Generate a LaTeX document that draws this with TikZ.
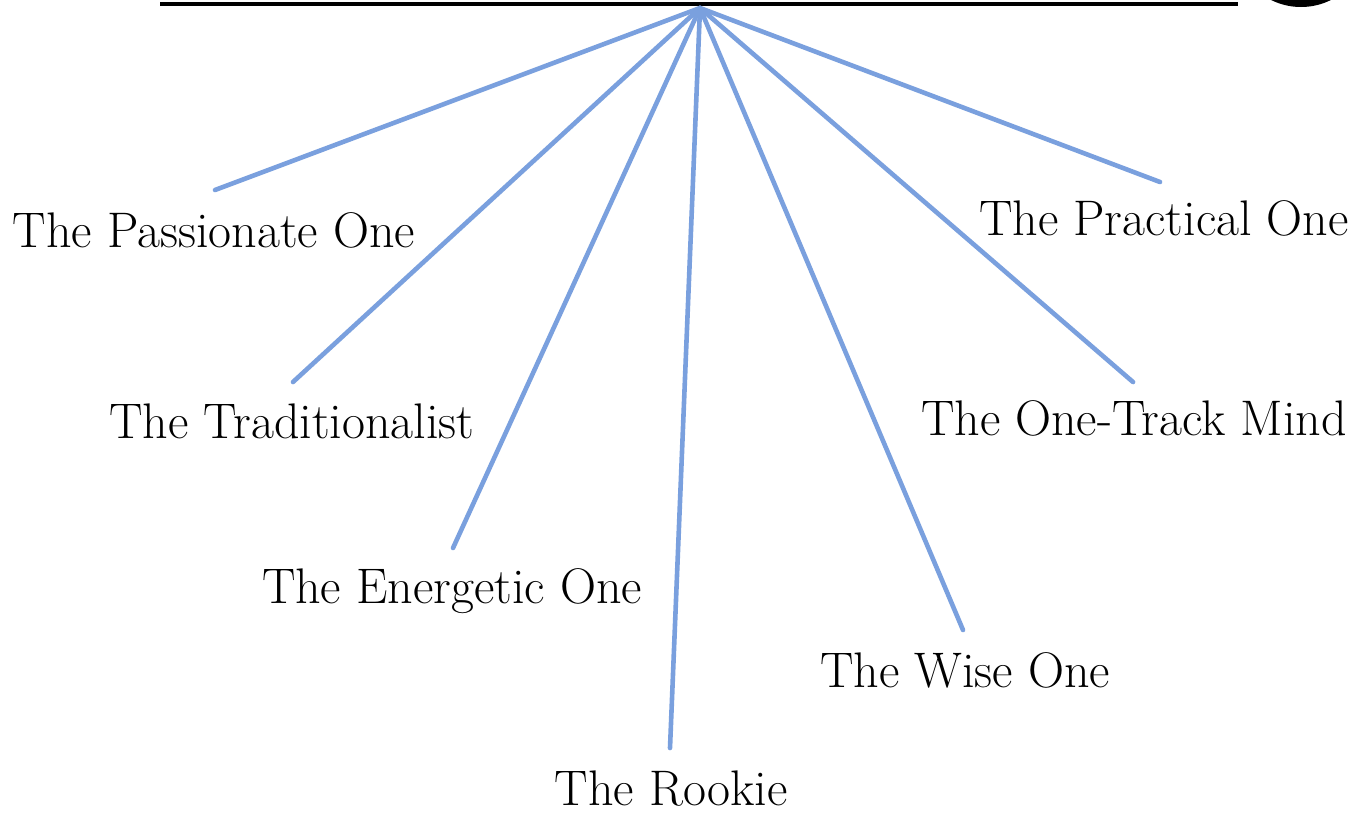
\documentclass[tikz,border=0pt]{standalone}
\usepackage{tikz}
\definecolor{spoke}{RGB}{122,160,222}
\tikzset{
  lbl/.style={anchor=base, inner sep=0pt, font=\fontsize{50}{60}\selectfont, text=black},
  spokeline/.style={draw=spoke, line width=4.6pt, line cap=round},
}
\begin{document}
\begin{tikzpicture}[x=1pt,y=-1pt]
\useasboundingbox (0,0) rectangle (1364,815);
\fill[white] (0,0) rectangle (1364,815);
\begin{scope}
\clip (0,0) rectangle (1364,815);
\fill[black] (1301,-60) circle (67);
\end{scope}
\draw[black, line width=3.5pt] (160,4) -- (1238,4);
\coordinate (hub) at (700,8);
\coordinate (pA) at (215,190);
\coordinate (pB) at (293,382);
\coordinate (pC) at (453,548);
\coordinate (pD) at (670,748);
\coordinate (pE) at (963,630);
\coordinate (pF) at (1133,382);
\coordinate (pG) at (1160,182);
\foreach \p in {pA,pB,pC,pD,pE,pF,pG} \draw[spokeline] (hub) -- (\p);
\node[lbl] (tA) at (214,247) {The Passionate One};
\node[lbl] (tB) at (292,438) {The Traditionalist};
\node[lbl] (tC) at (452,603) {The Energetic One};
\node[lbl] (tD) at (671,805) {The Rookie};
\node[lbl] (tE) at (965,687) {The Wise One};
\node[lbl] (tF) at (1134,435) {The One-Track Mind};
\node[lbl] (tG) at (1164,235) {The Practical One};
\end{tikzpicture}
\end{document}
